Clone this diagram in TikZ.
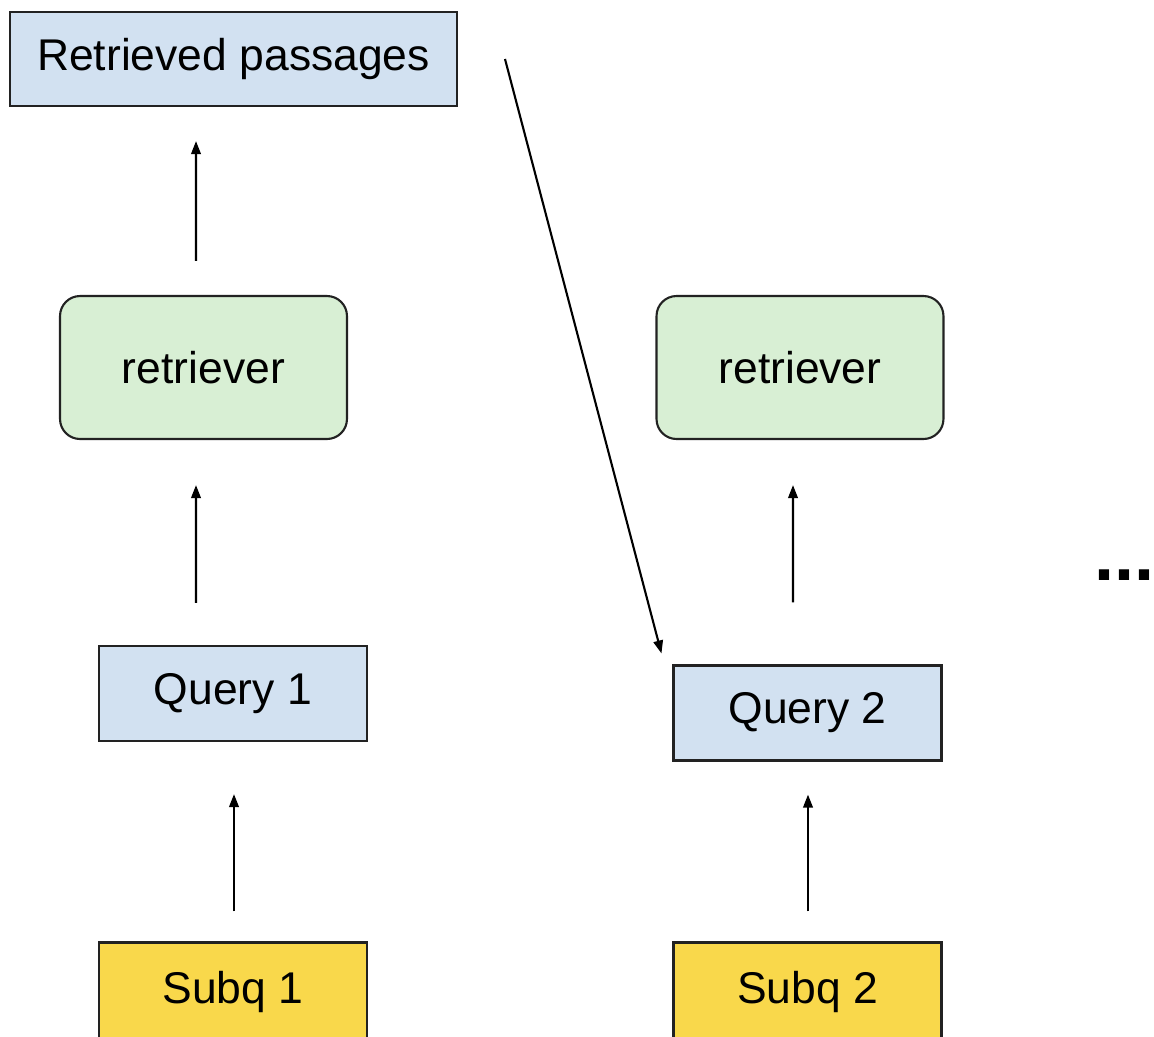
\documentclass[tikz,border=0pt]{standalone}
\usepackage{fontspec}
\setmainfont{Liberation Sans}
\usetikzlibrary{arrows.meta}
\definecolor{bluefill}{HTML}{D2E1F1}
\definecolor{greenfill}{HTML}{D8EFD4}
\definecolor{yellowfill}{HTML}{F9D84B}
\definecolor{edge}{HTML}{222222}
\tikzset{
  lbl/.style={font=\fontsize{25.3}{30}\selectfont, text=black},
  bluebox/.style={lbl, draw=edge, line width=1.2pt, fill=bluefill, inner sep=0pt},
  greenbox/.style={lbl, draw=edge, line width=1.2pt, fill=greenfill, rounded corners=0.4cm, inner sep=0pt, minimum width=5.74cm, minimum height=2.86cm},
  yellowbox/.style={lbl, draw=edge, line width=1.2pt, fill=yellowfill, inner sep=0pt, minimum width=5.36cm, minimum height=2.1cm},
  arr/.style={draw=black, line width=1.2pt, -{Triangle[length=0.26cm,width=0.19cm]}}
}
\begin{document}
\begin{tikzpicture}[x=0.02cm,y=-0.02cm]
\useasboundingbox (0,0) rectangle (1154,1036);
\node[bluebox, minimum width=8.94cm, minimum height=1.88cm] (rp) at (233.5,59) {Retrieved passages};
\node[greenbox] (r1) at (203.5,367.5) {retriever};
\node[greenbox] (r2) at (800,367.5) {retriever};
\node[bluebox, minimum width=5.36cm, minimum height=1.9cm] (q1) at (233,693.5) {Query 1};
\node[bluebox, minimum width=5.36cm, minimum height=1.9cm] (q2) at (807.5,713) {Query 2};
\node[yellowbox] (s1) at (233,995) {\raisebox{0.3cm}{Subq 1}};
\node[yellowbox] (s2) at (807.5,995) {\raisebox{0.3cm}{Subq 2}};
\node[font=\fontsize{41}{48}\selectfont\bfseries, anchor=base west, inner sep=0pt] (dots) at (1094,580) {...};
% connectors
\draw[arr, shorten <=0.6cm, shorten >=1.04cm] ([xshift=0.02cm]s1.north) -- ([xshift=0.02cm]q1.south);
\draw[arr, shorten <=0.6cm, shorten >=0.66cm] ([xshift=0.01cm]s2.north) -- ([xshift=0.01cm]q2.south);
\draw[arr, shorten <=0.84cm, shorten >=0.9cm] ([xshift=-0.74cm]q1.north) -- ([xshift=-0.15cm]r1.south);
\draw[arr, shorten <=1.24cm, shorten >=0.9cm] ([xshift=-0.29cm]q2.north) -- ([xshift=-0.14cm]r2.south);
\draw[arr, shorten <=0.68cm, shorten >=0.68cm] ([xshift=-0.15cm]r1.north) -- ([xshift=-0.75cm]rp.south);
\draw[arr] ([xshift=0.94cm]rp.east) -- ([xshift=-0.22cm,yshift=0.22cm]q2.north west);
\end{tikzpicture}
\end{document}
